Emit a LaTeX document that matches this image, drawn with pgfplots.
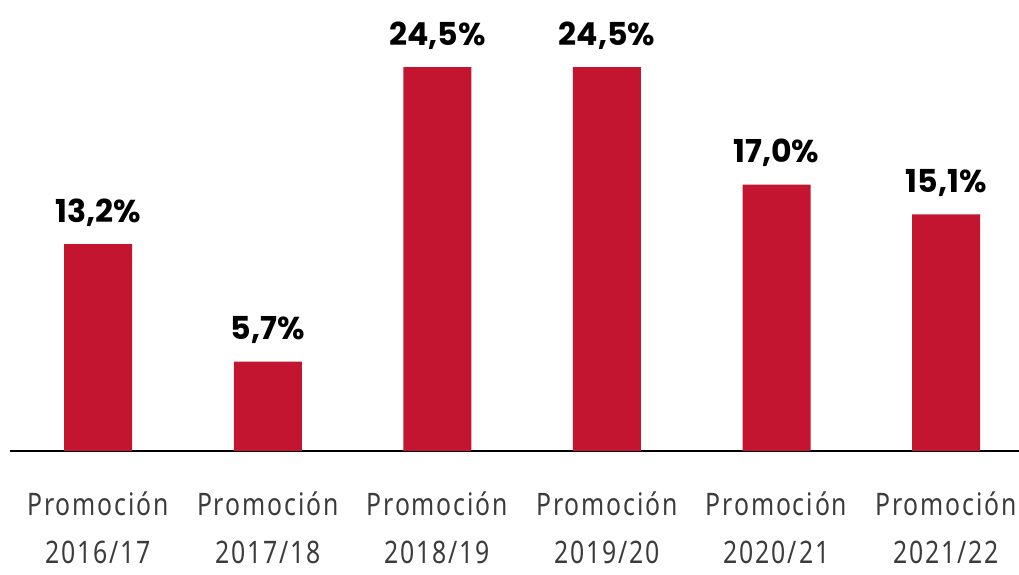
\documentclass[border=0pt]{standalone}
\usepackage{fontspec}
\usepackage{pgfplots}
\pgfplotsset{compat=1.18}
\setmainfont{Noto Sans}
\newfontfamily\barfont{Poppins}
\newfontfamily\tickfont[FakeStretch=0.8,LetterSpace=6]{Noto Sans}
\definecolor{barred}{HTML}{C41530}
\definecolor{tickgray}{HTML}{3C3C3C}
\begin{document}
\begin{tikzpicture}
\begin{axis}[
  scale only axis,
  width=504.5pt, height=225.5pt,
  xmin=-0.52, xmax=5.43,
  ymin=0, ymax=28.78,
  axis x line*=bottom,
  axis y line=none,
  x axis line style={black, line width=1pt},
  ybar, bar width=34pt,
  xtick={0,1,2,3,4,5},
  major tick length=0pt,
  xticklabels={Promoción\\2016/17,Promoción\\2017/18,Promoción\\2018/19,Promoción\\2019/20,Promoción\\2020/21,Promoción\\2021/22},
  xticklabel style={align=center, anchor=north, inner sep=0pt, yshift=-20pt, text=tickgray,
    font=\tickfont\fontsize{15.5}{24}\selectfont},
  /pgf/number format/assume math mode=true,
  nodes near coords={\pgfmathprintnumber[fixed,fixed zerofill,precision=1,use comma]{\pgfplotspointmeta}\%},
  nodes near coords style={anchor=base, yshift=11pt, font=\barfont\bfseries\fontsize{15.8}{19}\selectfont, text=black},
  clip=false,
]
\addplot[fill=barred, draw=none] coordinates {(0,13.2) (1,5.7) (2,24.5) (3,24.5) (4,17.0) (5,15.1)};
\end{axis}
\pgfresetboundingbox
\path (current axis.south west) ++(-5pt,-62pt) coordinate (bbsw);
\path (current axis.north east) ++(0pt,-3pt) coordinate (bbne);
\path (bbsw) rectangle (bbne);
\end{tikzpicture}
\end{document}
